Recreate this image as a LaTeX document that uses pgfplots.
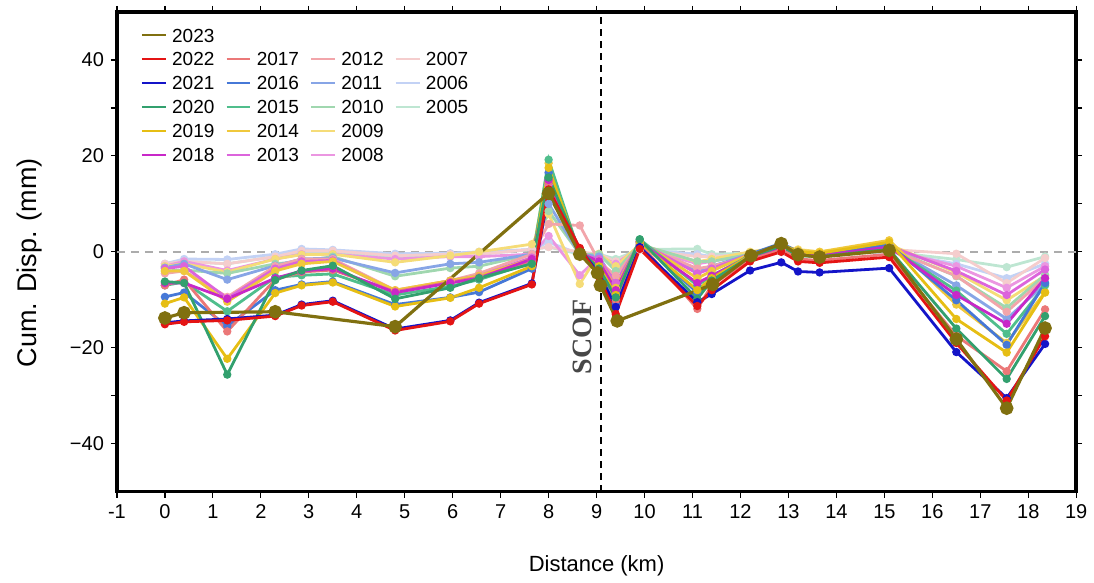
\documentclass[border=0pt]{standalone}
\usepackage{fontspec}
\setmainfont{Liberation Sans}
\newfontfamily\serifb{Liberation Serif}
\usepackage{pgfplots}
\usepackage{pgfplotstable}
\pgfplotsset{compat=1.18}

\definecolor{c2023}{RGB}{128,112,16}
\definecolor{c2022}{RGB}{228,20,20}
\definecolor{c2021}{RGB}{20,20,200}
\definecolor{c2020}{RGB}{50,160,110}
\definecolor{c2019}{RGB}{230,190,20}
\definecolor{c2018}{RGB}{200,40,200}
\definecolor{c2017}{RGB}{235,120,120}
\definecolor{c2016}{RGB}{70,120,215}
\definecolor{c2015}{RGB}{80,190,140}
\definecolor{c2014}{RGB}{240,200,60}
\definecolor{c2013}{RGB}{220,100,220}
\definecolor{c2012}{RGB}{242,165,170}
\definecolor{c2011}{RGB}{135,165,230}
\definecolor{c2010}{RGB}{160,215,175}
\definecolor{c2009}{RGB}{245,220,120}
\definecolor{c2008}{RGB}{235,150,225}
\definecolor{c2007}{RGB}{245,205,205}
\definecolor{c2006}{RGB}{195,210,245}
\definecolor{c2005}{RGB}{190,230,210}

\pgfplotstableread{
x     y05  y06  y07  y08  y09  y10  y11  y12  y13  y14   y15   y16   y17   y18   y19   y20   y21   y22
0.00 -3.0 -2.5 -2.5 -3.0 -3.0 -4.0 -3.3 -4.5 -3.5 -4.0  -7.0  -9.4  -7.0  -6.5 -10.8  -6.2 -14.8 -15.1
0.40 -2.0 -1.5 -2.0 -2.0 -2.5 -3.8 -2.5 -4.0 -3.0 -4.0  -6.3  -8.5  -5.8  -6.5  -9.5  -6.5 -14.4 -14.6
1.30 -2.5 -1.6 -2.5 -3.9 -4.2 -4.5 -5.8 -9.4 -9.7 -10.4 -12.4 -15.5 -16.6 -9.8 -22.3 -25.6 -14.0 -14.3
2.30 -1.0 -0.5 -1.0 -1.5 -1.5 -2.5 -2.9 -3.0 -3.5 -4.0  -5.3  -8.0  -5.8  -5.5  -8.6  -5.9 -13.2 -13.4
2.85  0.0  0.6  0.2 -0.5 -0.6 -2.0 -1.5 -1.5 -2.0 -2.5  -4.9  -6.8  -4.2  -4.0  -7.0  -3.9 -11.0 -11.2
3.50  0.0  0.4  0.2 -0.5 -0.5 -1.0 -1.3 -1.5 -1.8 -2.0  -4.6  -6.2  -3.8  -3.5  -6.4  -2.9 -10.2 -10.4
4.80 -1.0 -0.4 -0.8 -1.5 -2.2 -5.1 -4.4 -8.0 -8.3 -8.0  -9.0 -11.0  -8.3  -8.5 -11.4  -9.8 -16.1 -16.4
5.95 -0.8 -0.3 -0.5 -1.0 -0.8 -3.4 -2.5 -6.0 -6.0 -6.0  -7.2  -9.5  -6.3  -6.5  -9.6  -7.5 -14.3 -14.5
6.55 -0.5  0.0 -0.5 -1.0  0.0 -3.0 -2.2 -4.5 -5.0 -5.0  -5.8  -8.4  -5.3  -5.5  -7.5  -5.5 -10.6 -10.8
7.65  0.5  0.5  0.5 -0.5  1.6 -0.5 -0.5 -0.5 -1.2 -1.5  -2.2  -3.5  -1.8  -1.5  -3.0  -2.5  -6.6  -6.8
8.00  1.0  2.0  1.0  3.3  7.9  8.5 10.0  5.8 14.0 18.5  19.2  16.5  14.5  15.0  17.5  15.5  12.0  13.0
8.65 -0.5 -0.5  0.0 -4.9 -6.7 -0.5 -0.5  5.5 -0.5 -0.5  -0.5   0.0   0.5  -0.3  -0.5   0.3   0.5   0.8
9.05 -0.5 -0.5 -0.5 -1.0 -0.4 -0.5 -1.0 -2.0 -1.5 -2.0  -3.0  -3.5  -3.0  -2.0  -3.0  -3.5  -4.5  -5.2
9.40 -1.5 -3.0 -2.0 -2.5 -3.0 -4.0 -6.5 -5.0 -6.5 -7.5  -8.5 -10.8 -10.0  -8.0  -9.0  -9.5 -11.5 -13.0
9.90  0.5  0.5  0.5  1.0  1.5  1.5  1.5  1.5  2.0  2.2   2.6   2.2   1.8   2.0   2.0   2.6   1.0   0.6
11.10 0.6 -0.5 -1.0 -2.5 -2.1 -2.0 -4.0 -3.5 -4.5 -5.5  -7.0  -8.5 -11.9  -6.5  -8.0  -9.8 -10.5 -11.3
11.40 -0.5 -1.0 -1.0 -2.0 -1.5 -2.0 -3.0 -3.0 -3.5 -4.0 -5.0  -6.5  -7.0  -5.0  -5.5  -6.0  -8.8  -8.0
12.20 -0.3 -0.5 -0.5 -0.5  0.0 -0.5 -0.5 -1.0 -0.5 -0.5 -0.8  -0.5  -1.5  -1.0  -0.8  -1.0  -3.9  -2.0
12.85 0.0  0.0  0.3  0.5  1.0  0.5  1.0  0.5  1.0  1.5   1.2   1.8   0.5   1.0   1.5   1.2  -2.2   0.0
13.20 -0.3 -0.5 0.0  0.0  0.5  0.0 -0.5 -0.5  0.0  0.3  -0.5   0.0  -1.5  -0.5   0.0  -0.8  -4.1  -2.0
13.65 -0.3 -0.5 -0.3 -0.5 0.0 -0.5 -0.5 -1.0 -0.5  0.0  -0.5  -0.5  -1.8  -0.8  -0.3  -1.0  -4.3  -2.3
15.10 0.0  0.0  0.5  0.5  1.5  0.8  1.0  0.5  1.2  2.4   1.0   1.5  -0.5   1.0   2.0   0.5  -3.4  -1.1
16.50 -1.6 -2.5 -0.4 -3.0 -4.3 -5.1 -7.0 -5.0 -4.0 -11.0 -8.1 -10.1 -17.5  -9.0 -14.0 -16.0 -20.9 -19.0
17.55 -3.2 -5.5 -6.5 -7.5 -10.1 -11.7 -14.0 -12.5 -9.0 -19.0 -17.1 -19.4 -24.9 -15.0 -21.0 -26.5 -30.5 -31.0
18.35 -1.0 -2.5 -1.3 -3.0 -5.0 -4.8 -6.7 -5.5 -3.7 -8.4 -7.0  -6.5 -12.0  -5.5  -8.5 -13.4 -19.2 -17.6
}\yearsdata

\pgfplotstableread{
x      y
0.00  -13.8
0.40  -12.7
2.30  -12.5
4.80  -15.6
8.00   12.2
8.65   -0.5
9.02   -4.4
9.08   -7.0
9.43  -14.4
11.42  -6.8
12.22  -0.8
12.85   1.7
13.20  -0.6
13.65  -1.1
15.10   0.3
16.50 -18.2
17.55 -32.6
18.35 -15.9
}\datatwentythree

\pgfplotsset{
  yr/.style={color=#1, line width=1.4pt, mark=*, mark size=1.35pt, mark options={solid, fill=#1, draw=#1}, forget plot},
}

\begin{document}
\begin{tikzpicture}
\begin{axis}[
  scale only axis, width=480pt, height=240pt,
  xmin=-1, xmax=19, ymin=-50, ymax=50,
  xtick={-1,0,...,19},
  ytick={-40,-30,...,40},
  yticklabels={−40,,−20,,0,,20,,40},
  tick align=outside, tick pos=both, major tick length=3pt,
  axis line style={line width=1.8pt},
  every tick/.style={black, line width=0.6pt},
  /pgf/number format/assume math mode=true,
  tick label style={font=\fontsize{10}{12}\selectfont},
  xlabel={Distance (km)}, ylabel={Cum. Disp. (mm)},
  every axis x label/.style={at={(axis description cs:0.5,-0.155)}, anchor=center, font=\fontsize{11}{13}\selectfont},
  every axis y label/.style={at={(axis description cs:-0.0906,0.477)}, rotate=90, anchor=center, font=\fontsize{13.5}{16}\selectfont},
  legend columns=4,
  legend cell align=left,
  legend image code/.code={\draw[#1, line width=1.3pt] (0pt,0pt) -- (12pt,0pt);},
  legend style={at={(axis description cs:0.018,0.982)}, anchor=north west, draw=none, fill=none,
    font=\fontsize{9.5}{11}\selectfont, column sep=1pt, row sep=2pt,
    nodes={inner sep=1.5pt, text height=7pt, text depth=0pt},
    /tikz/every even column/.append style={column sep=3.9pt}},
]
\addlegendimage{c2023}\addlegendentry{2023}
\addlegendimage{empty legend}\addlegendentry{}
\addlegendimage{empty legend}\addlegendentry{}
\addlegendimage{empty legend}\addlegendentry{}
\addlegendimage{c2022}\addlegendentry{2022}
\addlegendimage{c2017}\addlegendentry{2017}
\addlegendimage{c2012}\addlegendentry{2012}
\addlegendimage{c2007}\addlegendentry{2007}
\addlegendimage{c2021}\addlegendentry{2021}
\addlegendimage{c2016}\addlegendentry{2016}
\addlegendimage{c2011}\addlegendentry{2011}
\addlegendimage{c2006}\addlegendentry{2006}
\addlegendimage{c2020}\addlegendentry{2020}
\addlegendimage{c2015}\addlegendentry{2015}
\addlegendimage{c2010}\addlegendentry{2010}
\addlegendimage{c2005}\addlegendentry{2005}
\addlegendimage{c2019}\addlegendentry{2019}
\addlegendimage{c2014}\addlegendentry{2014}
\addlegendimage{c2009}\addlegendentry{2009}
\addlegendimage{empty legend}\addlegendentry{}
\addlegendimage{c2018}\addlegendentry{2018}
\addlegendimage{c2013}\addlegendentry{2013}
\addlegendimage{c2008}\addlegendentry{2008}

\addplot[gray!65, line width=0.7pt, dash pattern=on 4pt off 3pt, forget plot] coordinates {(-1,0) (19,0)};
\addplot[black, line width=1.1pt, dash pattern=on 3.5pt off 2.5pt, forget plot] coordinates {(9.1,-50) (9.1,50)};

\addplot[yr=c2005] table[x=x, y=y05] {\yearsdata};
\addplot[yr=c2006] table[x=x, y=y06] {\yearsdata};
\addplot[yr=c2007] table[x=x, y=y07] {\yearsdata};
\addplot[yr=c2008] table[x=x, y=y08] {\yearsdata};
\addplot[yr=c2009] table[x=x, y=y09] {\yearsdata};
\addplot[yr=c2010] table[x=x, y=y10] {\yearsdata};
\addplot[yr=c2011] table[x=x, y=y11] {\yearsdata};
\addplot[yr=c2012] table[x=x, y=y12] {\yearsdata};
\addplot[yr=c2013] table[x=x, y=y13] {\yearsdata};
\addplot[yr=c2014] table[x=x, y=y14] {\yearsdata};
\addplot[yr=c2015] table[x=x, y=y15] {\yearsdata};
\addplot[yr=c2016] table[x=x, y=y16] {\yearsdata};
\addplot[yr=c2017] table[x=x, y=y17] {\yearsdata};
\addplot[yr=c2018] table[x=x, y=y18] {\yearsdata};
\addplot[yr=c2019] table[x=x, y=y19] {\yearsdata};
\addplot[yr=c2020] table[x=x, y=y20] {\yearsdata};
\addplot[yr=c2021] table[x=x, y=y21] {\yearsdata};
\addplot[yr=c2022] table[x=x, y=y22] {\yearsdata};
\addplot[color=c2023, line width=1.6pt, mark=*, mark size=2.6pt, mark options={solid, fill=c2023}, forget plot] table[x=x, y=y] {\datatwentythree};

\node[rotate=90, font=\serifb\bfseries\fontsize{14}{16}\selectfont, text=black!72] at (axis cs:8.71,-17.7) {SCOF};

\coordinate (bbSW) at (rel axis cs:-0.1219,-0.1854);
\coordinate (bbNE) at (rel axis cs:1.0177,1.025);
\end{axis}
\path (bbSW) rectangle (bbNE);
\end{tikzpicture}
\end{document}
